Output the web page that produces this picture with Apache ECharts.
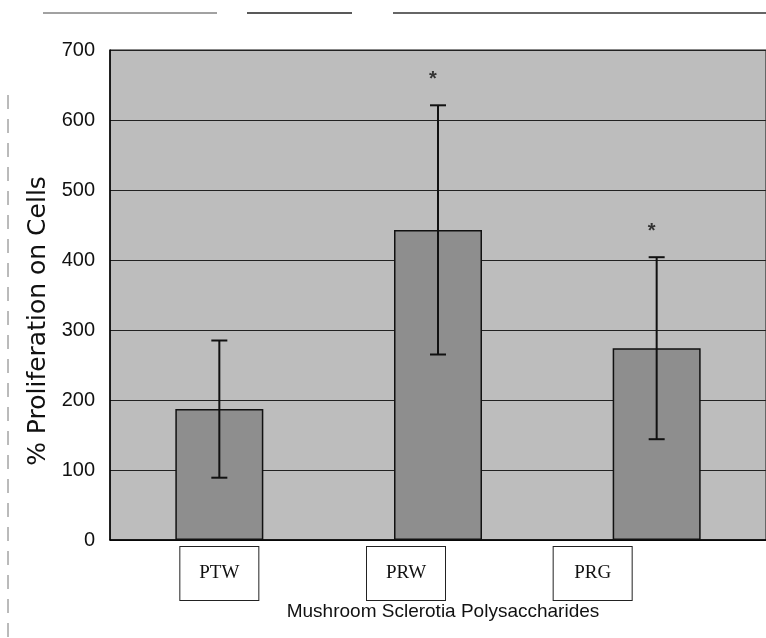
<!DOCTYPE html>
<html>
<head>
<meta charset="utf-8">
<script src="https://cdn.jsdelivr.net/npm/echarts@6/dist/echarts.min.js"></script>
<style>html,body{margin:0;padding:0;background:#fff;}#c{width:766px;height:638px;}</style>
</head>
<body>
<div id="c"></div>
<script>
var categories = ['PTW', 'PRW', 'PRG'];
var means = [187, 443, 274];
var errors = [98, 178, 130];
var marks = ['', '*', '*'];
var yTicks = [0, 100, 200, 300, 400, 500, 600, 700];

// horizontal shift of each boxed category label (layout only)
var labelShift = [0, 64, 128];

var chart = echarts.init(document.getElementById('c'));
var rich = {
  box: {
    fontFamily: 'Liberation Serif', fontSize: 19, color: '#111',
    width: 78, height: 53, lineHeight: 53,
    align: 'center', verticalAlign: 'middle', borderColor: '#222', borderWidth: 1, backgroundColor: '#fff'
  }
};
labelShift.forEach(function (w, i) { rich['sp' + i] = { width: w, height: 1, lineHeight: 53 }; });

chart.setOption({
  animation: false,
  backgroundColor: '#fff',
  grid: { left: 110, right: -2, top: 50, bottom: 98, show: true, backgroundColor: '#bdbdbd', borderColor: '#111', borderWidth: 1 },
  xAxis: {
    type: 'category', data: categories,
    axisLine: { lineStyle: { color: '#000', width: 1.5 } },
    axisTick: { show: false },
    axisLabel: {
      margin: 7, interval: 0,
      formatter: function (v, i) { return '{box|' + v + '}' + (labelShift[i] ? '{sp' + i + '|}' : ''); },
      rich: rich
    },
    name: 'Mushroom Sclerotia Polysaccharides', nameLocation: 'middle', nameGap: 62, nameMoveOverlap: false,
    nameTextStyle: { fontFamily: 'Liberation Sans', fontSize: 19, color: '#111', padding: [0, 0, 0, 10] }
  },
  yAxis: {
    type: 'value', min: 0, max: 700, interval: 100,
    axisLine: { show: true, lineStyle: { color: '#000', width: 1.5 } },
    axisTick: { show: false },
    axisLabel: { fontFamily: 'Liberation Sans', fontSize: 20, color: '#111', margin: 15,
      formatter: function (v) { return yTicks.indexOf(v) >= 0 ? String(v) : ''; } },
    splitLine: { lineStyle: { color: '#222', width: 1 } },
    name: '% Proliferation on Cells', nameLocation: 'middle', nameGap: 55, nameRotate: 90,
    nameTextStyle: { fontFamily: 'DejaVu Sans', fontSize: 25, color: '#111', padding: [0, 52, 0, 0] }
  },
  series: [
    {
      type: 'bar', data: means, barWidth: 88,
      itemStyle: { color: '#8e8e8e', borderColor: '#111', borderWidth: 1.5 }
    },
    {
      type: 'custom', z: 10,
      data: means.map(function (m, i) { return [i, m - errors[i], m + errors[i]]; }),
      renderItem: function (params, api) {
        var i = api.value(0);
        var lo = api.coord([i, api.value(1)]);
        var hi = api.coord([i, api.value(2)]);
        var cap = 8;
        var st = { stroke: '#111', lineWidth: 2 };
        var children = [
          { type: 'line', shape: { x1: hi[0], y1: hi[1], x2: lo[0], y2: lo[1] }, style: st },
          { type: 'line', shape: { x1: hi[0] - cap, y1: hi[1], x2: hi[0] + cap, y2: hi[1] }, style: st },
          { type: 'line', shape: { x1: lo[0] - cap, y1: lo[1], x2: lo[0] + cap, y2: lo[1] }, style: st }
        ];
        if (marks[i]) {
          children.push({ type: 'text', style: { text: marks[i], x: hi[0] - 5, y: hi[1] - 36, fill: '#333',
            font: 'bold 20px Liberation Sans', align: 'center' } });
        }
        return { type: 'group', children: children };
      }
    }
  ],
  graphic: [
    { type: 'line', shape: { x1: 43, y1: 13, x2: 217, y2: 13 }, style: { stroke: '#444', lineWidth: 1 } },
    { type: 'line', shape: { x1: 247, y1: 13, x2: 352, y2: 13 }, style: { stroke: '#222', lineWidth: 1.5 } },
    { type: 'line', shape: { x1: 393, y1: 13, x2: 766, y2: 13 }, style: { stroke: '#333', lineWidth: 1.5 } },
    { type: 'line', shape: { x1: 8, y1: 95, x2: 8, y2: 638 }, style: { stroke: '#777', lineWidth: 1, lineDash: [14, 10] } }
  ]
});
</script>
</body>
</html>
